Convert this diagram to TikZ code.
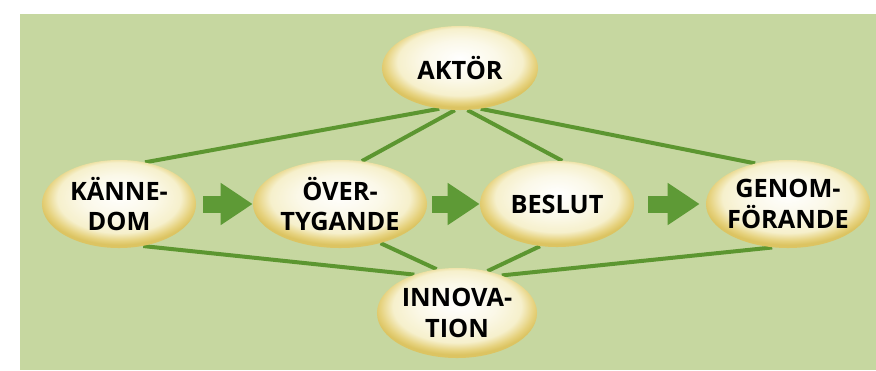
\documentclass[tikz,border=0pt]{standalone}
\usepackage{fontspec}
\setmainfont{Open Sans}
\usepackage{tikz}
\usetikzlibrary{arrows.meta}
\usetikzlibrary{shapes.geometric}
\usetikzlibrary{backgrounds}

\definecolor{bggreen}{HTML}{C6D7A0}
\definecolor{linegreen}{HTML}{5C9630}
\definecolor{arrowgreen}{HTML}{5E9A36}
\definecolor{eggmid}{HTML}{F6F0CC}
\definecolor{eggedge}{HTML}{E6D27E}
\definecolor{eggrim}{HTML}{DCC462}

\pgfdeclareradialshading{eggshade}{\pgfpoint{0bp}{6bp}}{%
  color(0bp)=(white); color(12bp)=(white!55!eggmid); color(20bp)=(eggmid);
  color(24bp)=(eggedge); color(26bp)=(eggrim); color(50bp)=(eggrim)}

\tikzset{
  egg/.style={ellipse, shading=eggshade, inner xsep=-0.5cm, inner ysep=-0.2cm,
    align=center, font=\fontsize{18}{22}\selectfont\bfseries},
  link/.style={linegreen, line width=0.1cm},
  flow/.style={arrowgreen, line width=0.425cm, -{Triangle[length=0.8cm,width=1cm]}}
}

\begin{document}
\begin{tikzpicture}[x=0.025cm, y=-0.025cm]
		\useasboundingbox (0,0) rectangle (876,370);
		% the stages
		\node[egg, minimum width=3.9cm, minimum height=2.1cm] (akt) at (460,68) {AKTÖR};
		\node[egg, minimum width=3.85cm, minimum height=2.2cm] (kann) at (119,204) {KÄNNE-\\DOM};
		\node[egg, minimum width=4.35cm, minimum height=2.2cm] (over) at (340,204) {ÖVER-\\TYGANDE};
		\node[egg, minimum width=3.85cm, minimum height=2.15cm] (besl) at (557,204) {BESLUT};
		\node[egg, minimum width=4.1cm, minimum height=2.2cm] (genf) at (788,204) {GENOM-\\FÖRANDE};
		\node[egg, minimum width=4cm, minimum height=2.25cm] (innov) at (457,313) {INNOVA-\\TION};
		% block arrows
		\draw[flow, shorten <=0.175cm] (kann.east) -- (over.west);
		\draw[flow, shorten <=0.125cm] (over.east) -- (besl.west);
		\draw[flow, shorten <=0.35cm, shorten >=0.15cm] (besl.east) -- (genf.west);
		\begin{scope}[on background layer]
			\fill[bggreen] (20,14) rectangle (876,370);
			% links to AKTÖR
			\draw[link] (kann.58) -- (akt.243);
			\draw[link] (over.63) -- (akt.263);
			\draw[link] (besl.83) -- (akt.280);
			\draw[link] (genf.129) -- (akt.297);
			% links to INNOVATION
			\draw[link] (kann.300) -- (innov.138);
			\draw[link] (over.316) -- (innov.115);
			\draw[link] (besl.248) -- (innov.54);
			\draw[link] (genf.250) -- (innov.40);
		\end{scope}
\end{tikzpicture}
\end{document}
